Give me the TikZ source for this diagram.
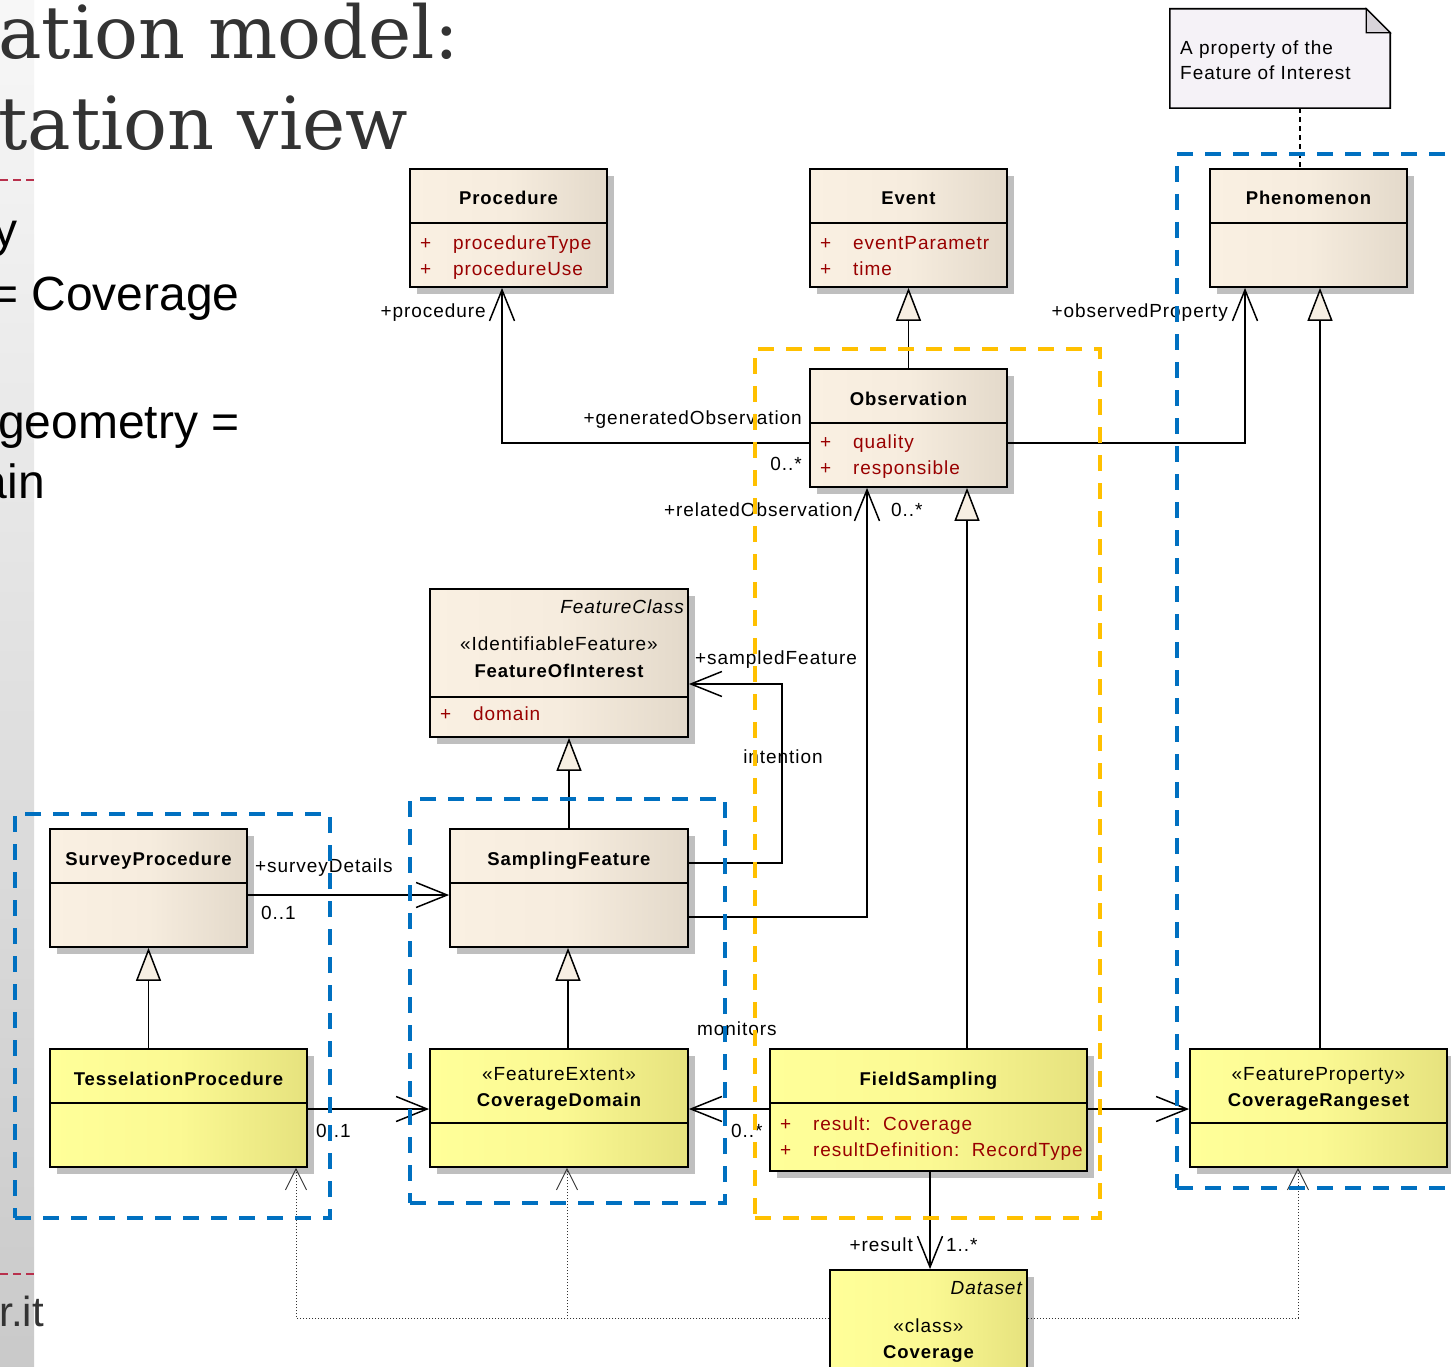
\documentclass[tikz,border=0pt]{standalone}
\usepackage{fontspec}
\setmainfont{Liberation Sans}
\newfontfamily\umlfont{Liberation Sans}[LetterSpace=5]
\newfontfamily\titlefont{DejaVu Serif}
\newfontfamily\slidefont{Liberation Sans}
\usetikzlibrary{arrows.meta,fit,shadows}

\definecolor{beigeL}{HTML}{FAF0E2}
\definecolor{beigeM}{HTML}{F6ECDE}
\definecolor{beigeR}{HTML}{E3D9CA}
\definecolor{yelL}{HTML}{FFFF99}
\definecolor{yelM}{HTML}{FBF993}
\definecolor{yelR}{HTML}{E6E27E}
\definecolor{attrred}{HTML}{990000}
\definecolor{pkgblue}{HTML}{0070C0}
\definecolor{pkgorange}{HTML}{FFC000}
\definecolor{notefill}{HTML}{F5F2F7}
\definecolor{notefold}{HTML}{D8D4DA}
\definecolor{trifill}{HTML}{F7EFE3}
\definecolor{titlegray}{HTML}{333333}
\definecolor{rulered}{HTML}{B8304C}

% a UML class: frame with shadow, then the line under its header
\newcommand\umlclass[7]{%
  \node[#2, fit={(#3,#4)(#5,#6)}] (#1) {};
  \draw[divline] (#3,#7) -- (#5,#7);
}

\begin{document}
\begin{tikzpicture}[x=1pt,y=-1pt,
  classbox/.style={draw=black, line width=1.8pt, inner sep=0pt,
    drop shadow={shadow xshift=7pt, shadow yshift=-7pt, fill=black!25, opacity=1}},
  beigebox/.style={classbox, left color=beigeL, right color=beigeR, middle color=beigeM},
  yellowbox/.style={classbox, left color=yelL, right color=yelR, middle color=yelM},
  divline/.style={line width=1.6pt},
  umltext/.style={inner sep=0pt, font=\umlfont\fontsize{19}{22}\selectfont},
  cname/.style={umltext, anchor=base, font=\umlfont\fontsize{18.5}{22}\selectfont\bfseries},
  attrtext/.style={umltext, anchor=base west, text=attrred},
  lbl/.style={umltext},
  assoc/.style={line width=1.5pt, -{Straight Barb[length=31pt,width=25pt]}},
  gen/.style={line width=1.5pt, -{Triangle[length=33pt,width=25pt,fill=trifill]}},
  dep/.style={line width=0.9pt, draw=black!80, dash pattern=on 1.5pt off 1.5pt,
    -{Straight Barb[length=21pt,width=21pt]}},
  pkgblue/.style={draw=pkgblue, line width=4pt, dash pattern=on 16pt off 12pt, inner sep=0pt},
  pkgorange/.style={draw=pkgorange, line width=4pt, dash pattern=on 16pt off 12pt, inner sep=0pt},
  slidetext/.style={inner sep=0pt, font=\slidefont\fontsize{48}{52}\selectfont},
  titletext/.style={inner sep=0pt, anchor=base west, text=titlegray,
    font=\titlefont\fontsize{73}{80}\selectfont},
  redrule/.style={draw=rulered, line width=1.5pt, dash pattern=on 8pt off 5pt}
]
\useasboundingbox (0,0) rectangle (1451,1367);
\fill[white] (0,0) rectangle (1451,1367);

% slide margin strip and the slide text behind the diagram
\shade[top color=black!3, bottom color=black!21] (0,0) rectangle (34,1367);
\node[titletext] (t1) at (-2,59) {ation model:};
\node[titletext] (t2) at (-2,150) {tation view};
\draw[redrule] (0,180) -- (34,180);
\node[slidetext, anchor=base east] (s1) at (18,247) {y};
\node[slidetext, anchor=base west] (s2) at (-10,310) {= Coverage};
\node[slidetext, anchor=base west] (s3) at (-2,438) {geometry =};
\node[slidetext, anchor=base east] (s4) at (45,498) {ain};
\draw[redrule] (0,1274) -- (34,1274);
\node[slidetext, anchor=base east, text=titlegray, font=\slidefont\fontsize{42}{46}\selectfont] (s5) at (44,1326) {r.it};

% note
\node[fit={(1170,9)(1390,108)}, inner sep=0pt] (note) {};
\filldraw[fill=notefill, draw=black, line width=1.6pt]
  (note.north west) -- ([xshift=-24pt]note.north east) -- ([yshift=-24pt]note.north east)
  -- (note.south east) -- (note.south west) -- cycle;
\filldraw[fill=notefold, draw=black, line width=1.2pt]
  ([xshift=-24pt]note.north east) -- ([xshift=-24pt,yshift=-24pt]note.north east)
  -- ([yshift=-24pt]note.north east) -- cycle;
\node[umltext, anchor=base west] (n1) at (1180,55) {A property of the};
\node[umltext, anchor=base west] (n2) at (1180,80) {Feature of Interest};

% classes
\umlclass{proc}{beigebox}{410}{169}{607}{287}{223}
\node[cname] at (508.5,205) {Procedure};
\node[umltext, anchor=base west, text=attrred] at (420,249) {+};
\node[attrtext] at (453,249) {procedureType};
\node[umltext, anchor=base west, text=attrred] at (420,275) {+};
\node[attrtext] at (453,275) {procedureUse};

\umlclass{event}{beigebox}{810}{169}{1007}{287}{223}
\node[cname] at (908.5,205) {Event};
\node[umltext, anchor=base west, text=attrred] at (820,249) {+};
\node[attrtext] at (853,249) {eventParametr};
\node[umltext, anchor=base west, text=attrred] at (820,275) {+};
\node[attrtext] at (853,275) {time};

\umlclass{phen}{beigebox}{1210}{169}{1407}{287}{223}
\node[cname] at (1308.5,205) {Phenomenon};

\umlclass{obs}{beigebox}{810}{369}{1007}{487}{423}
\node[cname] at (908.5,405) {Observation};
\node[umltext, anchor=base west, text=attrred] at (820,448) {+};
\node[attrtext] at (853,448) {quality};
\node[umltext, anchor=base west, text=attrred] at (820,474) {+};
\node[attrtext] at (853,474) {responsible};

\umlclass{foi}{beigebox}{430}{589}{688}{737}{697}
\node[umltext, anchor=base east, font=\umlfont\fontsize{19}{22}\selectfont\itshape] at (684,613) {FeatureClass};
\node[umltext, anchor=base] at (559,650) {«IdentifiableFeature»};
\node[cname] at (559,677) {FeatureOfInterest};
\node[umltext, anchor=base west, text=attrred] at (440,720) {+};
\node[attrtext] at (473,720) {domain};

\umlclass{survey}{beigebox}{50}{829}{247}{947}{883}
\node[cname] at (148.5,865) {SurveyProcedure};

\umlclass{samp}{beigebox}{450}{829}{688}{947}{883}
\node[cname] at (569,865) {SamplingFeature};

\umlclass{tess}{yellowbox}{50}{1049}{307}{1167}{1103}
\node[cname] at (178.5,1085) {TesselationProcedure};

\umlclass{cdom}{yellowbox}{430}{1049}{688}{1167}{1123}
\node[umltext, anchor=base] at (559,1080) {«FeatureExtent»};
\node[cname] at (559,1106) {CoverageDomain};

\umlclass{field}{yellowbox}{770}{1049}{1087}{1171}{1103}
\node[cname] at (928.5,1085) {FieldSampling};
\node[umltext, anchor=base west, text=attrred] at (780,1130) {+};
\node[attrtext] at (813,1130) {result:\ \ Coverage};
\node[umltext, anchor=base west, text=attrred] at (780,1156) {+};
\node[attrtext] at (813,1156) {resultDefinition:\ \ RecordType};

\umlclass{crange}{yellowbox}{1190}{1049}{1447}{1167}{1123}
\node[umltext, anchor=base] at (1318.5,1080) {«FeatureProperty»};
\node[cname] at (1318.5,1106) {CoverageRangeset};

\node[yellowbox, fit={(830,1270)(1027,1400)}] (cov) {};
\node[umltext, anchor=base east, font=\umlfont\fontsize{19}{22}\selectfont\itshape] at (1022,1294) {Dataset};
\node[umltext, anchor=base] at (928.5,1332) {«class»};
\node[cname] at (928.5,1358) {Coverage};

% note link
\draw[line width=1.5pt, dash pattern=on 5pt off 4pt] ([xshift=20pt]note.south) -- ([xshift=-8.5pt]phen.north);

% generalizations
\draw[gen] (obs.north) -- (event.south);
\draw[gen] ([xshift=38.5pt]field.north) -- ([xshift=58.5pt]obs.south);
\draw[gen] (samp.north) -- ([xshift=10pt]foi.south);
\draw[gen] ([xshift=-30pt]tess.north) -- (survey.south);
\draw[gen] ([xshift=9pt]cdom.north) -- ([xshift=-1pt]samp.south);
\draw[gen] ([xshift=1.5pt]crange.north) -- ([xshift=11.5pt]phen.south);

% associations
\draw[assoc] ([yshift=-15pt]obs.west) -| ([xshift=-6.5pt]proc.south);
\draw[assoc] ([yshift=-15pt]obs.east) -| ([xshift=-63.5pt]phen.south);
\draw[assoc] ([yshift=-29pt]samp.east) -| ([xshift=-41.5pt]obs.south);
\draw[assoc] ([yshift=25pt]samp.east) -| ([xshift=93pt,yshift=-21pt]foi.east) -- ([yshift=-21pt]foi.east);
\draw[assoc] ([yshift=-7pt]survey.east) -- ([yshift=-7pt]samp.west);
\draw[assoc] ([yshift=-1pt]tess.east) -- ([yshift=-1pt]cdom.west);
\draw[assoc] ([yshift=1pt]field.west) -- ([yshift=-1pt]cdom.east);
\draw[assoc] ([yshift=1pt]field.east) -- ([yshift=-1pt]crange.west);
\draw[assoc] ([xshift=1.5pt]field.south) -- ([xshift=1.5pt]cov.north);

% dependencies of the coverage
\draw[dep] ([yshift=17pt]cov.west) -| ([xshift=117.5pt]tess.south);
\draw[dep] ([yshift=17pt]cov.west) -| ([xshift=8pt]cdom.south);
\draw[dep] ([yshift=17pt]cov.east) -| ([xshift=-20.5pt]crange.south);

% role names and multiplicities
\node[lbl, anchor=base east] at (486,317) {+procedure};
\node[lbl, anchor=base east] at (802,424) {+generatedObservation};
\node[lbl, anchor=base east] at (802,470) {0..*};
\node[lbl, anchor=base east] at (1228,317) {+observedProperty};
\node[lbl, anchor=base east] at (853,516) {+relatedObservation};
\node[lbl, anchor=base west] at (891,516) {0..*};
\node[lbl, anchor=base west] at (695,664) {+sampledFeature};
\node[lbl, anchor=base] at (783,763) {intention};
\node[lbl, anchor=base west] at (255,872) {+surveyDetails};
\node[lbl, anchor=base west] at (261,919) {0..1};
\node[lbl, anchor=base west] at (316,1137) {0..1};
\node[lbl, anchor=base west] at (697,1035) {monitors};
\node[lbl, anchor=base west] at (731,1137) {0..*};
\node[lbl, anchor=base east] at (913,1251) {+result};
\node[lbl, anchor=base west] at (946,1251) {1..*};

% packages
\node[pkgblue, fit={(15,814)(330,1218)}] (pkgsurvey) {};
\node[pkgblue, fit={(410,799)(725,1203)}] (pkgsampling) {};
\node[pkgblue, fit={(1177,154)(1480,1188)}] (pkgproperty) {};
\node[pkgorange, fit={(755,349)(1100,1218)}] (pkgobs) {};
\end{tikzpicture}
\end{document}
